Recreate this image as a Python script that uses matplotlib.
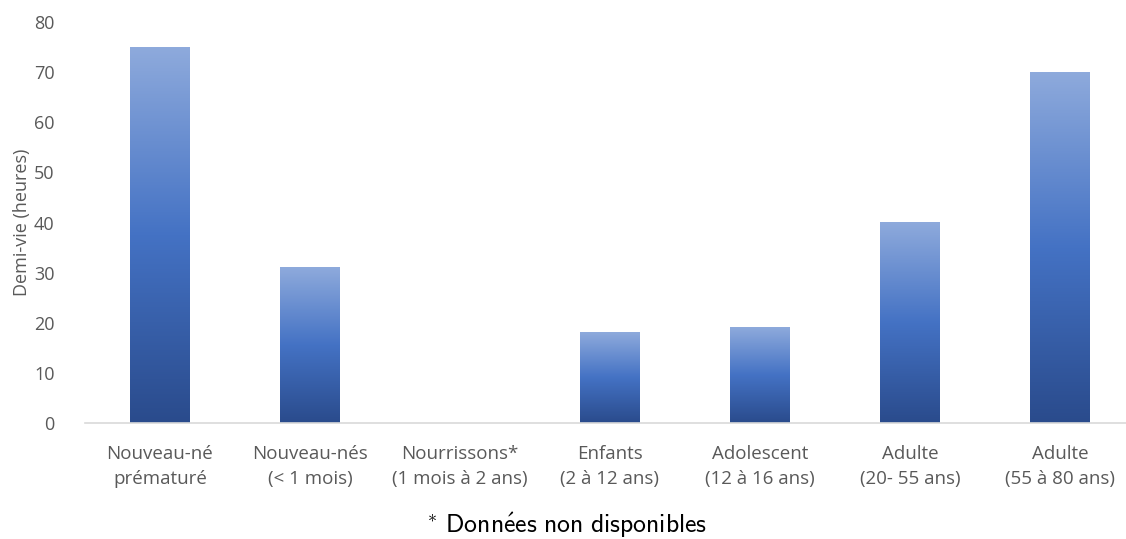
import numpy as np
import matplotlib.pyplot as plt
from matplotlib.colors import LinearSegmentedColormap

# data
categories = ["Nouveau-né\nprématuré", "Nouveau-nés\n(< 1 mois)", "Nourrissons*\n(1 mois à 2 ans)",
              "Enfants\n(2 à 12 ans)", "Adolescent\n(12 à 16 ans)", "Adulte\n(20- 55 ans)",
              "Adulte\n(55 à 80 ans)"]
half_life = [75, 31, 0, 18, 19, 40, 70]
yticks = [0, 10, 20, 30, 40, 50, 60, 70, 80]

grey = "#595959"
cmap = LinearSegmentedColormap.from_list("bars", ["#2a4b8c", "#4472c4", "#8eaadc"])

W, H = 1126, 539
fig = plt.figure(figsize=(W / 100, H / 100), dpi=100)
ax = fig.add_axes([85 / W, (539 - 423) / H, 1041 / W, 401 / H])

x = np.arange(len(categories))
bw = 0.4
grad = np.linspace(0, 1, 256).reshape(-1, 1)
for xi, v in zip(x, half_life):
    if v <= 0:
        continue
    ax.imshow(grad, cmap=cmap, origin="lower", aspect="auto",
              extent=[xi - bw / 2, xi + bw / 2, 0, v], zorder=2)

ax.set_xlim(-0.5, 6.44)
ax.set_ylim(0, 80)
ax.set_xticks(x)
ax.set_xticklabels(categories, fontsize=13.5, color=grey, family="Open Sans", linespacing=1.5)
ax.set_yticks(yticks)
ax.set_yticklabels([str(t) for t in yticks], fontsize=13, color=grey, family="Open Sans")
ax.tick_params(axis="both", length=0)
ax.tick_params(axis="x", pad=16)
ax.tick_params(axis="y", pad=22)

for s in ["top", "right", "left"]:
    ax.spines[s].set_visible(False)
ax.spines["bottom"].set_color("#d9d9d9")
ax.spines["bottom"].set_linewidth(1.2)

ax.set_ylabel("Demi-vie (heures)", fontsize=13, color=grey, family="Open Sans")
ax.yaxis.set_label_coords(-0.052, 0.5)

fig.text(567 / W, 1 - 533.5 / H,
         r"$\mathsf{{}^{*}\ Donn\acute{e}es\ non\ disponibles}$",
         ha="center", va="baseline", fontsize=18.5, math_fontfamily="cm", color="black")

fig.savefig("out.png", dpi=100)
